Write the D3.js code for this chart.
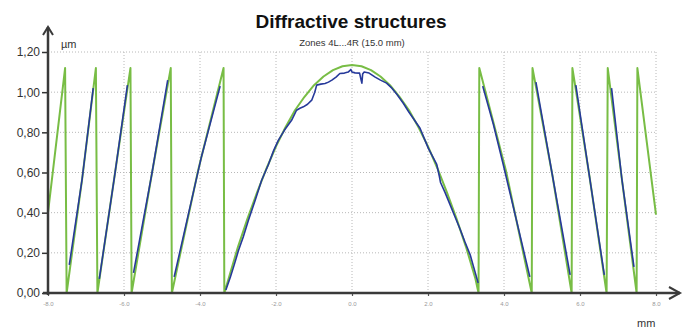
<!DOCTYPE html>
<html>
<head>
<meta charset="utf-8">
<script src="https://cdn.jsdelivr.net/npm/d3@7"></script>
<style>
  html, body { margin: 0; padding: 0; background: #fff; }
  svg { display: block; font-family: "Liberation Sans", Arial, sans-serif; }
</style>
</head>
<body>
<svg id="chart" width="697" height="329"></svg>
<script>
// axis ticks
const xTicks = [-8, -6, -4, -2, 0, 2, 4, 6, 8];
const yTicks = [0, 0.2, 0.4, 0.6, 0.8, 1.0, 1.2];

// theoretical profile (green), [mm, µm]
const nominal = [
  [-8.0, 0.40], [-7.55, 1.12], [-7.51, 0.0], [-7.1, 0.57], [-6.74, 1.12],
  [-6.70, 0.0], [-6.25, 0.58], [-5.83, 1.12], [-5.80, 0.0], [-5.27, 0.59],
  [-4.77, 1.12], [-4.74, 0.0], [-4.05, 0.61], [-3.38, 1.12], [-3.36, 0.0],
  [-3.25, 0.07], [-3.0, 0.23], [-2.75, 0.37], [-2.5, 0.50], [-2.25, 0.62],
  [-2.0, 0.73], [-1.75, 0.825], [-1.5, 0.91], [-1.25, 0.977], [-1.0, 1.035],
  [-0.75, 1.078], [-0.5, 1.11], [-0.25, 1.129], [0, 1.135], [0.25, 1.129],
  [0.5, 1.11], [0.75, 1.078], [1.0, 1.035], [1.25, 0.977], [1.5, 0.91],
  [1.75, 0.825], [2.0, 0.73], [2.25, 0.62], [2.5, 0.50], [2.75, 0.37],
  [3.0, 0.23], [3.25, 0.07], [3.33, 0.0], [3.35, 1.12], [4.05, 0.61],
  [4.73, 0.0], [4.75, 1.12], [5.27, 0.59], [5.78, 0.0], [5.80, 1.12],
  [6.25, 0.58], [6.70, 0.0], [6.73, 1.12], [7.1, 0.57], [7.49, 0.0],
  [7.51, 1.12], [8.0, 0.39]
];

// measured profile (blue), one array per zone
const measuredL4 = [[-7.44, 0.14], [-7.1, 0.57], [-6.81, 1.02]];
const measuredL3 = [[-6.65, 0.07], [-6.25, 0.58], [-5.91, 1.035]];
const measuredL2 = [[-5.75, 0.10], [-5.27, 0.59], [-4.85, 1.06]];
const measuredL1 = [[-4.68, 0.08], [-3.96, 0.68], [-3.47, 1.03]];
const measuredCenter = [
  [-3.32, 0.015], [-3.2, 0.08], [-3.1, 0.14], [-2.99, 0.21], [-2.86, 0.28],
  [-2.73, 0.36], [-2.55, 0.46], [-2.38, 0.56], [-2.2, 0.64], [-2.06, 0.71],
  [-1.94, 0.76], [-1.78, 0.81], [-1.59, 0.86], [-1.46, 0.91], [-1.37, 0.92],
  [-1.28, 0.927], [-1.17, 0.94], [-1.06, 0.96], [-0.98, 1.0], [-0.93, 1.035],
  [-0.82, 1.04], [-0.71, 1.043], [-0.62, 1.05], [-0.53, 1.06], [-0.42, 1.075],
  [-0.32, 1.093], [-0.2, 1.095], [-0.1, 1.10], [-0.03, 1.113], [0.0, 1.10],
  [0.08, 1.096], [0.2, 1.095], [0.24, 1.06], [0.26, 1.045], [0.28, 1.09],
  [0.32, 1.10], [0.45, 1.095], [0.61, 1.075], [0.75, 1.06], [0.91, 1.045],
  [1.05, 1.02], [1.18, 0.99], [1.35, 0.945], [1.5, 0.90], [1.61, 0.87],
  [1.79, 0.82], [1.9, 0.77], [2.01, 0.72], [2.12, 0.68], [2.23, 0.64],
  [2.3, 0.58], [2.33, 0.55], [2.45, 0.50], [2.58, 0.44], [2.71, 0.38],
  [2.84, 0.32], [2.97, 0.255], [3.11, 0.19], [3.2, 0.13], [3.32, 0.05]
];
const measuredR1 = [[3.44, 1.03], [3.72, 0.84], [3.98, 0.64], [4.68, 0.08]];
const measuredR2 = [[4.84, 1.05], [5.27, 0.59], [5.74, 0.09]];
const measuredR3 = [[5.89, 1.035], [6.25, 0.58], [6.64, 0.09]];
const measuredR4 = [[6.83, 1.02], [7.1, 0.57], [7.42, 0.13]];
const measured = [measuredL4, measuredL3, measuredL2, measuredL1, measuredCenter,
  measuredR1, measuredR2, measuredR3, measuredR4];

const svg = d3.select("#chart");
const x = d3.scaleLinear().domain([-8, 8]).range([48, 656]);
const y = d3.scaleLinear().domain([0, 1.2]).range([293, 52]);

// grid
const grid = svg.append("g").attr("class", "grid");
grid.selectAll(".hgrid")
  .data(yTicks.filter((d) => d > 0))
  .join("line")
  .attr("x1", x(-8)).attr("x2", x(8))
  .attr("y1", (d) => y(d)).attr("y2", (d) => y(d))
  .attr("stroke", "#b8b8b8").attr("stroke-width", 1)
  .attr("stroke-dasharray", "1,2");
grid.selectAll(".vgrid")
  .data(xTicks.filter((d) => d > -8))
  .join("line")
  .attr("x1", (d) => x(d)).attr("x2", (d) => x(d))
  .attr("y1", y(0)).attr("y2", y(1.2))
  .attr("stroke", "#b8b8b8").attr("stroke-width", 1)
  .attr("stroke-dasharray", "1,2");

// curves
const line = d3.line().x((d) => x(d[0])).y((d) => y(d[1]));

svg.append("path")
  .datum(nominal)
  .attr("fill", "none")
  .attr("stroke", "#78bd45")
  .attr("stroke-width", 2)
  .attr("stroke-linejoin", "round")
  .attr("d", line);

svg.append("g")
  .selectAll("path")
  .data(measured)
  .join("path")
  .attr("fill", "none")
  .attr("stroke", "#26399a")
  .attr("stroke-width", 1.6)
  .attr("stroke-linejoin", "round")
  .attr("d", line);

// axes
const yAxis = d3.axisLeft(y).tickValues(yTicks).tickSize(6).tickPadding(2)
  .tickFormat((d) => d.toFixed(2).replace(".", ","));
const yAxisG = svg.append("g").attr("transform", `translate(${x(-8)},0)`).call(yAxis);
yAxisG.select(".domain").remove();
yAxisG.selectAll(".tick line").attr("stroke", "#333").attr("stroke-width", 1.5);
yAxisG.selectAll(".tick text")
  .attr("fill", "#333")
  .style("font-size", "12px");

const xAxis = d3.axisBottom(x).tickValues(xTicks).tickSize(3).tickPadding(6)
  .tickFormat((d) => d.toFixed(1));
const xAxisG = svg.append("g").attr("transform", `translate(0,${y(0)})`).call(xAxis);
xAxisG.select(".domain").remove();
xAxisG.selectAll(".tick line").attr("stroke", "#555").attr("stroke-width", 1.2);
xAxisG.selectAll(".tick text")
  .attr("fill", "#999")
  .style("font-size", "6px");

// axis lines with arrows
const axisColor = "#3a3a3a";
svg.append("line")
  .attr("x1", x(-8)).attr("x2", x(-8))
  .attr("y1", y(0) + 2).attr("y2", 27)
  .attr("stroke", axisColor).attr("stroke-width", 2.5);
svg.append("path")
  .attr("d", `M${x(-8) - 5},35 L${x(-8)},27 L${x(-8) + 5},35`)
  .attr("fill", "none").attr("stroke", axisColor).attr("stroke-width", 2);
svg.append("line")
  .attr("x1", 43).attr("x2", 680)
  .attr("y1", y(0)).attr("y2", y(0))
  .attr("stroke", axisColor).attr("stroke-width", 2.5);
svg.append("path")
  .attr("d", `M669,${y(0) - 6} L680,${y(0)} L669,${y(0) + 6}`)
  .attr("fill", "none").attr("stroke", axisColor).attr("stroke-width", 2);

// labels
svg.append("text")
  .attr("x", 351).attr("y", 28)
  .attr("text-anchor", "middle")
  .attr("fill", "#111")
  .style("font-size", "19px").style("font-weight", "bold")
  .text("Diffractive structures");
svg.append("text")
  .attr("x", 352).attr("y", 46)
  .attr("text-anchor", "middle")
  .attr("fill", "#333")
  .style("font-size", "9.5px")
  .text("Zones 4L...4R (15.0 mm)");
svg.append("text")
  .attr("x", 61).attr("y", 48)
  .attr("fill", "#333")
  .style("font-size", "11px")
  .text("µm");
svg.append("text")
  .attr("x", 637).attr("y", 327)
  .attr("fill", "#333")
  .style("font-size", "11px")
  .text("mm");
</script>
</body>
</html>
